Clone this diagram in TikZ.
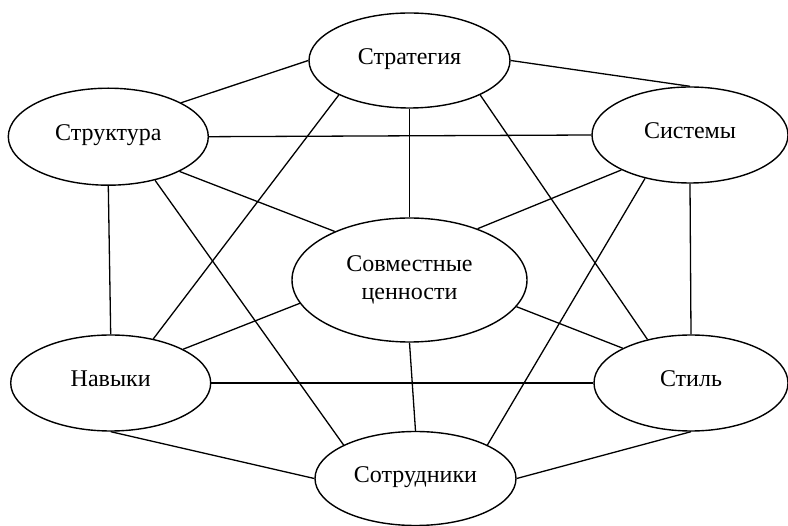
\documentclass[tikz,border=0pt]{standalone}
\usepackage{fontspec}
\setmainfont{Liberation Serif}
\usetikzlibrary{shapes.geometric}
\begin{document}
\begin{tikzpicture}[x=1pt,y=-1pt,
  elem/.style={draw, ellipse, line width=1.4pt, inner sep=0pt,
    font=\fontsize{24}{28}\selectfont},
  peri/.style={elem, text height=14.4pt, text depth=7.2pt},
  link/.style={line width=1.3pt}]
\useasboundingbox (0,0) rectangle (788,526);

% the seven elements
\node[peri, minimum width=201pt, minimum height=95pt] (strat) at (409.5,60.5) {Стратегия};
\node[peri, minimum width=200pt, minimum height=97pt] (struk) at (108.3,136.7) {Структура};
\node[peri, minimum width=196pt, minimum height=96pt] (sist) at (690,135) {Системы};
\node[elem, align=center, minimum width=235pt, minimum height=124pt] (sovm) at (409.5,280) {Совместные\\ценности};
\node[peri, minimum width=200pt, minimum height=96pt] (navy) at (110.7,383) {Навыки};
\node[peri, minimum width=194pt, minimum height=96pt] (stil) at (691,383) {Стиль};
\node[peri, minimum width=201pt, minimum height=94pt] (sotr) at (415.5,478.5) {Сотрудники};

% links between the elements
\draw[link] (strat.west) -- (struk.25.8);
\draw[link] (strat.east) -- (sist.north);
\draw[link] (strat.-154.2) -- (navy.46.1);
\draw[link] (strat.south) -- (sovm.north);
\draw[link] (strat.-26.1) -- (stil.135.7);
\draw[link] (struk.east) -- (sist.west);
\draw[link] (struk.-26.2) -- (sovm.147.8);
\draw[link] (struk.-43.5) -- (sotr.155.2);
\draw[link] (struk.south) -- (navy.north);
\draw[link] (sist.-153.4) -- (sovm.37.1);
\draw[link] (sist.-136.8) -- (sotr.25.4);
\draw[link] (sist.south) -- (stil.north);
\draw[link] (navy.25.5) -- (sovm.-168.3);
\draw[link] (navy.east) -- (stil.west);
\draw[link] (navy.south) -- (sotr.west);
\draw[link] (stil.153.8) -- (sovm.-14);
\draw[link] (stil.south) -- (sotr.east);
\draw[link] (sovm.south) -- (sotr.north);
\end{tikzpicture}
\end{document}
